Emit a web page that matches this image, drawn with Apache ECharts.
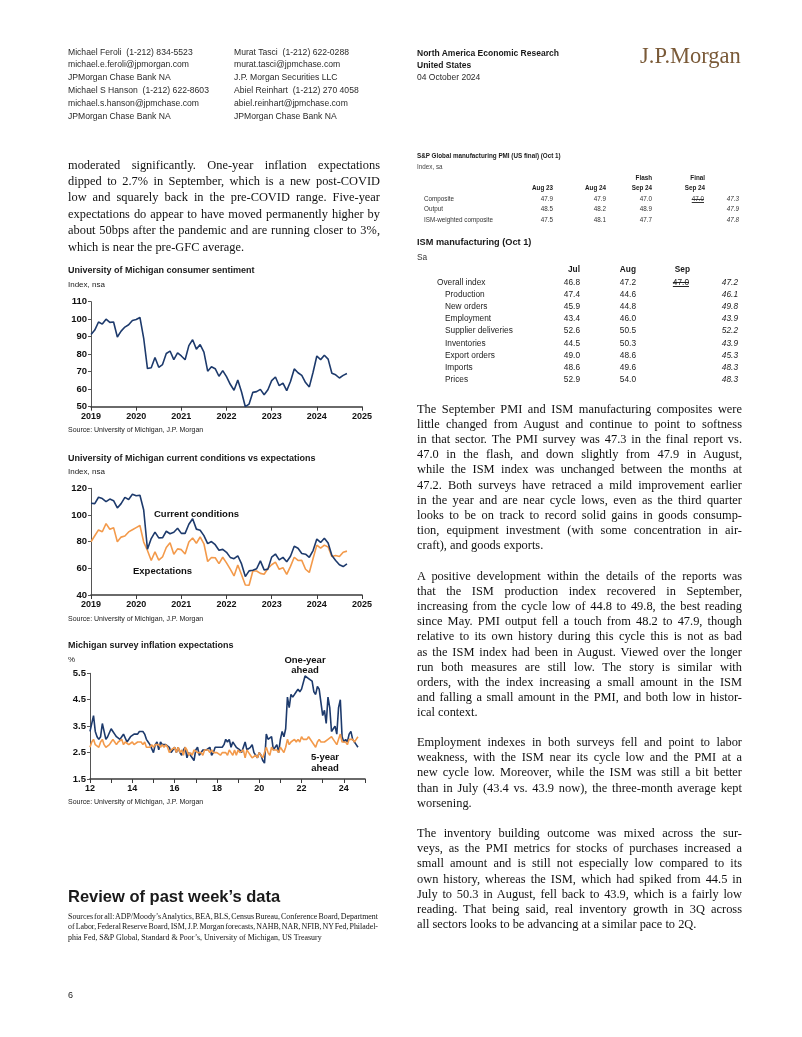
<!DOCTYPE html>
<html><head><meta charset="utf-8">
<script src="https://cdn.jsdelivr.net/npm/echarts@6.0.0/dist/echarts.min.js"></script>
<style>
html,body{margin:0;padding:0;background:#fff;}
#page{position:relative;width:802px;height:1037px;overflow:hidden;background:#fff;font-family:"Liberation Sans",Arial,sans-serif;color:#1a1a1a;}
.t{position:absolute;white-space:nowrap;}
.serif{font-family:"Liberation Serif","Times New Roman",serif;color:#111;}
#chart{position:absolute;left:0;top:0;width:802px;height:1037px;}
</style></head>
<body><div id="page"><div id="chart"></div></div>
<script>
// ---------------- DATA ----------------
// Monthly, Jan 2019 .. Sep 2024
const sentimentStart = 2019;
const sentiment = [
 91.2,93.8,98.4,97.2,100.0,98.2,98.4,89.8,93.2,95.5,96.8,99.3,
 99.8,101.0,89.1,71.8,72.3,78.1,72.5,74.1,80.4,81.8,76.9,80.7,
 79.0,76.8,84.9,88.3,82.9,85.5,81.2,70.3,72.8,71.7,67.4,70.6,
 67.2,62.8,59.4,65.2,58.4,50.0,51.5,58.2,58.6,59.9,56.8,59.7,
 64.9,67.0,62.0,63.5,59.2,64.4,71.6,69.4,67.9,63.8,61.3,69.7,
 79.0,76.9,79.4,77.2,69.1,68.2,66.4,67.9,69.0
];
const currentConditions = [
 108.8,108.5,113.3,112.3,110.0,111.9,110.7,105.3,108.5,113.2,111.6,115.5,
 114.4,114.8,103.7,74.3,82.3,87.1,82.8,82.9,87.8,85.9,87.0,90.0,
 86.2,86.2,93.0,97.2,89.4,88.6,84.5,78.5,80.1,77.7,73.6,74.2,
 72.0,68.2,67.2,69.4,63.3,53.8,58.1,58.6,59.7,65.6,58.8,59.4,
 68.4,70.7,66.3,68.2,64.9,69.0,76.6,75.1,71.1,70.6,68.3,73.3,
 81.9,79.4,82.5,79.0,69.6,65.9,62.7,61.3,63.3
];
const expectations = [
 79.9,84.4,88.8,87.4,93.5,89.3,90.5,79.9,83.4,84.2,87.3,88.9,
 90.5,92.1,79.7,73.4,65.9,72.3,66.2,68.5,75.6,79.2,70.5,74.6,
 74.0,70.7,79.7,82.7,78.8,83.5,78.4,65.1,68.1,67.9,63.5,68.3,
 64.1,59.4,54.3,62.5,55.2,47.5,47.3,58.0,58.0,56.2,55.6,59.9,
 62.7,64.7,59.3,60.5,55.4,61.5,68.3,65.9,66.0,59.3,56.9,67.4,
 77.4,75.2,77.4,76.0,68.8,69.6,68.8,72.1,72.9
];
// Monthly, Jan 2012 .. Sep 2024
const inflStart = 2012;
const oneYearAhead = [
 3.3,3.3,3.9,3.3,3.1,3.0,3.1,3.6,3.3,3.0,3.1,3.1,
 3.4,3.3,3.2,3.1,3.1,3.0,3.1,3.2,3.2,2.9,2.9,3.1,
 3.1,3.2,3.2,3.2,3.3,3.3,3.3,3.2,3.0,2.9,2.8,2.8,
 2.5,2.8,2.9,2.6,2.9,2.8,2.8,2.8,2.8,2.7,2.5,2.6,
 2.7,2.5,2.7,2.5,2.4,2.6,2.7,2.3,2.5,2.4,2.4,2.2,
 2.6,2.7,2.4,2.5,2.6,2.6,2.6,2.6,2.7,2.4,2.5,2.7,
 2.7,2.7,2.7,2.7,2.8,3.0,2.9,3.0,2.7,2.9,2.8,2.7,
 2.7,2.6,2.5,2.5,2.9,2.6,2.6,2.7,2.8,2.5,2.4,2.3,
 2.5,2.4,2.2,2.1,3.2,3.0,3.0,3.1,2.6,2.6,2.8,2.5,
 3.0,3.3,3.1,3.4,4.6,4.2,4.7,4.6,4.6,4.8,4.9,4.8,
 4.9,4.9,5.4,5.4,5.3,5.3,5.2,4.8,4.7,5.0,4.9,4.4,
 3.9,4.1,3.6,4.6,4.2,3.3,3.4,3.5,3.2,4.2,4.5,3.1,
 2.9,3.0,2.9,3.2,3.3,3.0,2.9,2.8,2.7
];
const fiveYearAhead = [
 2.7,2.9,3.0,2.8,2.8,2.7,2.9,3.0,2.8,2.7,2.7,2.8,
 2.9,3.0,2.9,2.8,2.9,2.9,3.0,2.8,2.9,2.9,2.8,2.8,
 2.9,2.8,2.8,2.9,2.9,2.9,2.8,2.9,2.7,2.7,2.7,2.8,
 2.7,2.8,2.8,2.8,2.7,2.8,2.7,2.8,2.7,2.5,2.6,2.6,
 2.7,2.5,2.7,2.5,2.6,2.4,2.7,2.6,2.4,2.5,2.4,2.6,
 2.6,2.5,2.5,2.5,2.4,2.6,2.6,2.6,2.5,2.6,2.5,2.5,
 2.5,2.5,2.4,2.5,2.5,2.5,2.4,2.6,2.5,2.4,2.6,2.4,
 2.6,2.5,2.5,2.6,2.3,2.6,2.5,2.4,2.3,2.3,2.4,2.3,
 2.5,2.5,2.3,2.5,2.7,2.5,2.4,2.7,2.6,2.6,2.6,2.5,
 2.7,2.7,2.5,2.7,3.0,2.8,2.9,2.9,3.0,2.9,3.0,2.9,
 3.1,3.0,3.0,3.0,3.1,3.1,2.9,2.9,2.7,2.9,3.0,2.9,
 2.9,2.9,2.9,3.0,3.0,3.1,3.0,3.0,2.8,3.0,3.2,2.9,
 2.9,2.9,2.8,3.0,3.0,3.0,2.9,3.0,3.1
];
// Tables
const spRows = ['Composite','Output','ISM-weighted composite'];
const spAug23 = ['47.9','48.5','47.5'];
const spAug24 = ['47.9','48.2','48.1'];
const spFlash = ['47.0','48.9','47.7'];
const spPrior = ['47.0','',''];
const spFinal = ['47.3','47.9','47.8'];
const ismRows = ['Overall index','Production','New orders','Employment','Supplier deliveries','Inventories','Export orders','Imports','Prices'];
const ismJul = ['46.8','47.4','45.9','43.4','52.6','44.5','49.0','48.6','52.9'];
const ismAug = ['47.2','44.6','44.8','46.0','50.5','50.3','48.6','49.6','54.0'];
const ismPrior = ['47.0','','','','','','','',''];
const ismSep = ['47.2','46.1','49.8','43.9','52.2','43.9','45.3','48.3','48.3'];

// ---------------- TEXT LAYOUT ----------------
const page = document.getElementById('page');
function T(x, y, s, o) {
  o = o || {};
  const fs = o.size || 8.5, lh = Math.round(fs * 1.3);
  const d = document.createElement('div');
  d.className = 't' + (o.serif ? ' serif' : '');
  d.textContent = s;
  d.style.fontSize = fs + 'px';
  d.style.lineHeight = lh + 'px';
  d.style.top = (y - lh / 2) + 'px';
  if (o.bold) d.style.fontWeight = 'bold';
  if (o.italic) d.style.fontStyle = 'italic';
  if (o.color) d.style.color = o.color;
  if (o.deco) d.style.textDecoration = o.deco;
  page.appendChild(d);
  if (o.align === 'right') d.style.left = (x - d.getBoundingClientRect().width) + 'px';
  else if (o.align === 'center') d.style.left = (x - d.getBoundingClientRect().width / 2) + 'px';
  else d.style.left = x + 'px';
  return d;
}
function J(x, y, w, s, last, size) {
  const d = T(x, y, s, {serif: true, size: size || 12.4});
  if (!last) {
    const nat = d.getBoundingClientRect().width;
    const n = (s.match(/ /g) || []).length;
    if (n) d.style.wordSpacing = ((w - nat) / n) + 'px';
  }
}
function para(x, y0, step, w, lines, size) {
  lines.forEach((s, i) => J(x, y0 + i * step, w, s, i === lines.length - 1, size));
}

// Header
const hl = 12.8;
[['Michael Feroli\u00a0\u00a0(1-212) 834-5523','michael.e.feroli@jpmorgan.com','JPMorgan Chase Bank NA','Michael S Hanson\u00a0\u00a0(1-212) 622-8603','michael.s.hanson@jpmchase.com','JPMorgan Chase Bank NA'],
 ['Murat Tasci\u00a0\u00a0(1-212) 622-0288','murat.tasci@jpmchase.com','J.P. Morgan Securities LLC','Abiel Reinhart\u00a0\u00a0(1-212) 270 4058','abiel.reinhart@jpmchase.com','JPMorgan Chase Bank NA']]
.forEach((col, ci) => col.forEach((s, i) => T(ci ? 234 : 68, 52 + i * hl, s, {size: 8.6, color: '#2a2a2a'})));
T(417, 53, 'North America Economic Research', {bold: true, size: 8.5});
T(417, 65.5, 'United States', {bold: true, size: 8.5});
T(417, 77.5, '04 October 2024', {size: 8.5, color: '#2a2a2a'});
T(640, 55, 'J.P.Morgan', {serif: true, size: 22.5, color: '#7a5a38'});

// Left paragraph
para(68, 164.5, 16.4, 312, [
 'moderated significantly. One-year inflation expectations',
 'dipped to 2.7% in September, which is a new post-COVID',
 'low and squarely back in the pre-COVID range. Five-year',
 'expectations do appear to have moved permanently higher by',
 'about 50bps after the pandemic and are running closer to 3%,',
 'which is near the pre-GFC average.']);

// Chart titles / notes
T(68, 270, 'University of Michigan consumer sentiment', {bold: true, size: 9});
T(68, 285, 'Index, nsa', {size: 8});
T(68, 429, 'Source: University of Michigan, J.P. Morgan', {size: 7});
T(68, 457.5, 'University of Michigan current conditions vs expectations', {bold: true, size: 9});
T(68, 471.5, 'Index, nsa', {size: 8});
T(68, 618, 'Source: University of Michigan, J.P. Morgan', {size: 7});
T(68, 644.5, 'Michigan survey inflation expectations', {bold: true, size: 9});
T(68, 660, '%', {size: 8});
T(68, 801, 'Source: University of Michigan, J.P. Morgan', {size: 7});

T(68, 896, 'Review of past week\u2019s data', {bold: true, size: 16.5});
para(68, 916.5, 10.8, 310, [
 'Sources for all: ADP/Moody\u2019s Analytics, BEA, BLS, Census Bureau, Conference Board, Department',
 'of Labor, Federal Reserve Board, ISM, J.P. Morgan forecasts, NAHB, NAR, NFIB, NY Fed, Philadel-',
 'phia Fed, S&P Global, Standard & Poor\u2019s, University of Michigan, US Treasury'], 7.9);
T(68, 995, '6', {size: 9});

// S&P table
T(417, 156, 'S&P Global manufacturing PMI (US final) (Oct 1)', {bold: true, size: 6.3});
T(417, 167, 'Index, sa', {size: 6.3, color: '#444'});
T(652, 178, 'Flash', {bold: true, size: 6.3, align: 'right'});
T(705, 178, 'Final', {bold: true, size: 6.3, align: 'right'});
[[553,'Aug 23'],[606,'Aug 24'],[652,'Sep 24'],[705,'Sep 24']].forEach(h => T(h[0], 188, h[1], {bold: true, size: 6.3, align: 'right'}));
spRows.forEach((r, i) => {
  const y = 198.5 + i * 10.8;
  T(424, y, r, {size: 6.3, color: '#333'});
  T(553, y, spAug23[i], {size: 6.3, align: 'right', color: '#333'});
  T(606, y, spAug24[i], {size: 6.3, align: 'right', color: '#333'});
  T(652, y, spFlash[i], {size: 6.3, align: 'right', color: '#333'});
  if (spPrior[i]) T(704, y, spPrior[i], {size: 6.3, align: 'right', color: '#333', deco: 'line-through underline'});
  T(739, y, spFinal[i], {size: 6.3, align: 'right', italic: true, color: '#333'});
});

// ISM table
T(417, 241.5, 'ISM manufacturing (Oct 1)', {bold: true, size: 9.2});
T(417, 257, 'Sa', {size: 8.3, color: '#333'});
[[580,'Jul'],[636,'Aug'],[690,'Sep']].forEach(h => T(h[0], 269.5, h[1], {bold: true, size: 8.3, align: 'right'}));
ismRows.forEach((r, i) => {
  const y = 282 + i * 12.2;
  T(i ? 445 : 437, y, r, {size: 8.3, color: '#222'});
  T(580, y, ismJul[i], {size: 8.3, align: 'right', color: '#222'});
  T(636, y, ismAug[i], {size: 8.3, align: 'right', color: '#222'});
  if (ismPrior[i]) T(689, y, ismPrior[i], {size: 8.3, align: 'right', color: '#222', deco: 'line-through underline'});
  T(738, y, ismSep[i], {size: 8.3, align: 'right', italic: true, color: '#222'});
});

// Right column paragraphs
const RX = 417, RW = 325;
para(RX, 408.5, 15.2, RW, [
 'The September PMI and ISM manufacturing composites were',
 'little changed from August and continue to point to softness',
 'in that sector. The PMI survey was 47.3 in the final report vs.',
 '47.0 in the flash, and down slightly from 47.9 in August,',
 'while the ISM index was unchanged between the months at',
 '47.2. Both surveys have retraced a mild improvement earlier',
 'in the year and are near cycle lows, even as the third quarter',
 'looks to be on track to record solid gains in goods consump-',
 'tion, equipment investment (with some concentration in air-',
 'craft), and goods exports.']);
para(RX, 575.5, 15.2, RW, [
 'A positive development within the details of the reports was',
 'that the ISM production index recovered in September,',
 'increasing from the cycle low of 44.8 to 49.8, the best reading',
 'since May. PMI output fell a touch from 48.2 to 47.9, though',
 'relative to its own history during this cycle this is not as bad',
 'as the ISM index had been in August. Viewed over the longer',
 'run both measures are still low. The story is similar with',
 'orders, with the index increasing a small amount in the ISM',
 'and falling a small amount in the PMI, and both low in histor-',
 'ical context.']);
para(RX, 742, 15.2, RW, [
 'Employment indexes in both surveys fell and point to labor',
 'weakness, with the ISM near its cycle low and the PMI at a',
 'new cycle low. Moreover, while the ISM was still a bit better',
 'than in July (43.4 vs. 43.9 now), the three-month average kept',
 'worsening.']);
para(RX, 833, 15.2, RW, [
 'The inventory building outcome was mixed across the sur-',
 'veys, as the PMI metrics for stocks of purchases increased a',
 'small amount and is still not especially low compared to its',
 'own history, whereas the ISM, which had spiked from 44.5 in',
 'July to 50.3 in August, fell back to 43.9, which is a fairly low',
 'reading. That being said, real inventory growth in 3Q across',
 'all sectors looks to be advancing at a similar pace to 2Q.']);

// ---------------- CHARTS ----------------
const NAVY = '#1d3a6c', ORANGE = '#f39a4b';
const FONT = '"Liberation Sans", Arial, sans-serif';
function monthly(start, arr) { return arr.map((v, i) => [start + i / 12, v]); }
function xAx(idx, min, max, fmt) {
  return {type: 'value', gridIndex: idx, min: min, max: max, interval: 1,
    axisLine: {show: true, lineStyle: {color: '#3a3a3a', width: 1.6}},
    axisTick: {show: true, length: 4, lineStyle: {color: '#3a3a3a', width: 1}},
    axisLabel: {show: true, fontFamily: FONT, fontWeight: 'bold', fontSize: 9, color: '#111', margin: 5, formatter: fmt,
      showMinLabel: true, showMaxLabel: true},
    splitLine: {show: false}};
}
function yAx(idx, min, max, step, fmt) {
  return {type: 'value', gridIndex: idx, min: min, max: max, interval: step,
    axisLine: {show: true, lineStyle: {color: '#555', width: 1}},
    axisTick: {show: true, length: 3, lineStyle: {color: '#555', width: 1}},
    axisLabel: {fontFamily: FONT, fontWeight: 'bold', fontSize: 9.5, color: '#111', margin: 4, formatter: fmt},
    splitLine: {show: false}};
}
function line(data, color, ax, z) {
  return {type: 'line', data: data, xAxisIndex: ax, yAxisIndex: ax, showSymbol: false, symbol: 'none',
    lineStyle: {color: color, width: 1.6}, z: z || 2, silent: true, animation: false};
}
function gtext(x, y, s, align) {
  return {type: 'text', x: x, y: y, style: {text: s, x: 0, y: 0, fill: '#111',
    font: 'bold 9.5px ' + FONT, textAlign: align || 'left', textVerticalAlign: 'middle'}, z: 10};
}
const chart = echarts.init(document.getElementById('chart'), null, {renderer: 'canvas'});
chart.setOption({
  backgroundColor: 'transparent',
  animation: false,
  grid: [
    {left: 91, top: 301.7, width: 271, height: 105},
    {left: 91, top: 488.3, width: 271, height: 106.7},
    {left: 90, top: 673.3, width: 275, height: 105.7}
  ],
  xAxis: [
    xAx(0, 2019, 2025, v => String(v)),
    xAx(1, 2019, 2025, v => String(v)),
    xAx(2, 2012, 2025, v => (v % 2 === 0 && v <= 2024) ? String(v).slice(2) : '')
  ],
  yAxis: [
    yAx(0, 50, 110, 10, v => String(v)),
    yAx(1, 40, 120, 20, v => String(v)),
    yAx(2, 1.5, 5.5, 1, v => v.toFixed(1))
  ],
  series: [
    line(monthly(sentimentStart, sentiment), NAVY, 0),
    line(monthly(sentimentStart, expectations), ORANGE, 1, 2),
    line(monthly(sentimentStart, currentConditions), NAVY, 1, 3),
    line(monthly(inflStart, oneYearAhead), NAVY, 2, 2),
    line(monthly(inflStart, fiveYearAhead), ORANGE, 2, 3)
  ],
  graphic: [
    gtext(154, 514, 'Current conditions'),
    gtext(133, 571, 'Expectations'),
    gtext(305, 660, 'One-year', 'center'),
    gtext(305, 670.5, 'ahead', 'center'),
    gtext(325, 757.5, '5-year', 'center'),
    gtext(325, 768, 'ahead', 'center')
  ]
});
</script>
</body></html>
